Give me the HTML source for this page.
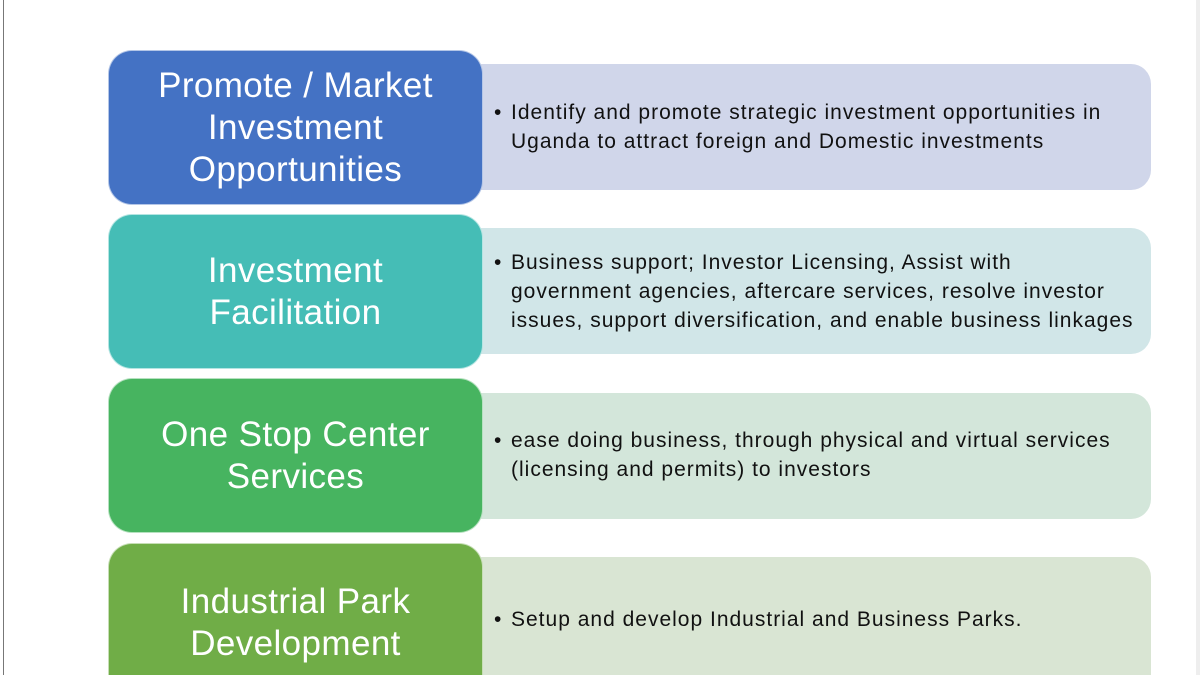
<!DOCTYPE html>
<html><head><meta charset="utf-8"><style>
html,body{margin:0;width:1200px;height:675px;overflow:hidden}
body{background:#fff;position:relative;font-family:"Liberation Sans",sans-serif}
.l{position:absolute;left:108px;width:375px;height:155px;border-radius:24px;color:#fff;font-size:35px;letter-spacing:0.4px;line-height:42px;text-align:center;display:flex;align-items:center;justify-content:center;z-index:2;border:1px solid rgba(255,255,255,.6);box-sizing:border-box;white-space:nowrap}
.r{position:absolute;left:470px;width:681px;height:126px;border-radius:0 20px 20px 0;z-index:1;color:#111;font-size:21px;letter-spacing:1px;line-height:29px}
.r div{position:absolute;left:41px;white-space:nowrap}
.r b{position:absolute;left:-17px;font-weight:normal}
</style></head><body>
<div style="position:absolute;left:3px;top:0;width:1px;height:675px;background:#777"></div>
<div style="position:absolute;left:1196px;top:0;width:4px;height:675px;background:#eee"></div>

<div class="l" style="top:50px;background:#4472c4">Promote / Market<br>Investment<br>Opportunities</div>
<div class="r" style="top:64px;background:#d0d6ea"><div style="top:34px"><b>•</b>Identify and promote strategic investment opportunities in<br>Uganda to attract foreign and Domestic investments</div></div>

<div class="l" style="top:214px;background:#45bdb6">Investment<br>Facilitation</div>
<div class="r" style="top:228px;background:#d1e6e8"><div style="top:20px"><b>•</b>Business support; Investor Licensing, Assist with<br>government agencies, aftercare services, resolve investor<br>issues, support diversification, and enable business linkages</div></div>

<div class="l" style="top:378px;background:#47b460">One Stop Center<br>Services</div>
<div class="r" style="top:393px;background:#d3e6da"><div style="top:33px"><b>•</b>ease doing business, through physical and virtual services<br>(licensing and permits) to investors</div></div>

<div class="l" style="top:543px;background:#70ad47;height:160px">Industrial Park<br>Development</div>
<div class="r" style="top:557px;background:#d9e5d3;height:140px"><div style="top:48px"><b>•</b>Setup and develop Industrial and Business Parks.</div></div>
</body></html>
